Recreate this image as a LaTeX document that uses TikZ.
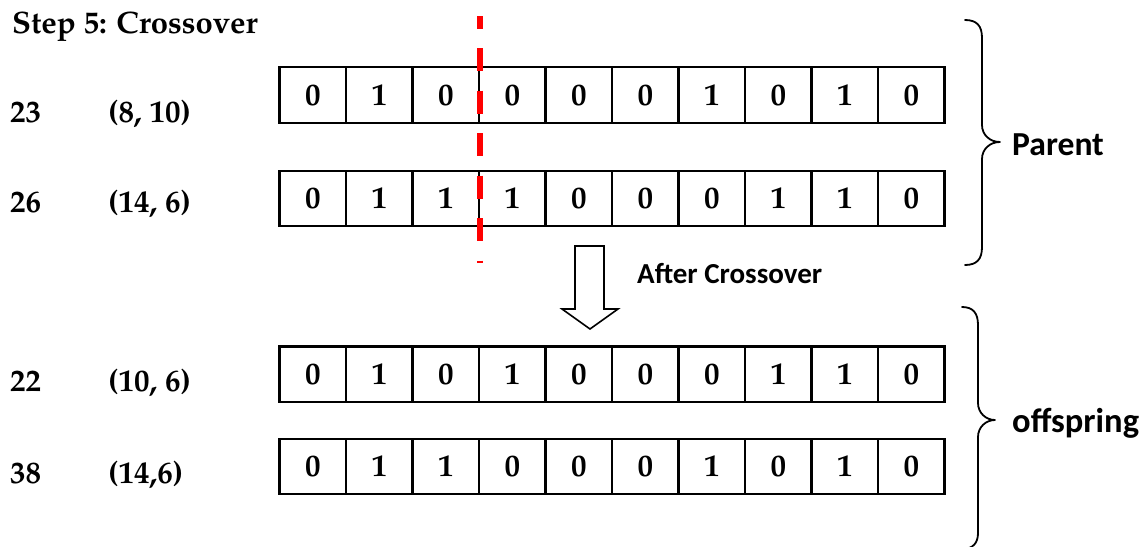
\documentclass[tikz,border=0pt]{standalone}
\usepackage[T1]{fontenc}
\usepackage{fontspec}
\newfontfamily\calibrifont{Carlito}
% bold Palatino for the numbers and row labels
\newcommand\palbold{\fontencoding{T1}\fontfamily{ppl}\fontseries{b}\fontshape{n}\fontsize{31}{37}\selectfont}
\newcommand\calbold[1]{\calibrifont\bfseries\fontsize{#1}{#1}\selectfont}

\begin{document}
\begin{tikzpicture}[x=1pt,y=-1pt,
  cell/.style={draw, line width=2.2pt, minimum width=66.5pt, minimum height=55.5pt,
               inner sep=0pt, outer sep=0pt, font=\palbold},
  rowlabel/.style={anchor=base west, inner sep=0pt, font=\palbold},
  sidetext/.style={anchor=base west, inner sep=0pt},
  brace/.style={line width=1.8pt, line join=round, line cap=round},
  cut/.style={red, line width=6pt, dash pattern=on 23pt off 19.5pt, dash phase=10.5pt},
  blockarrow/.style={draw, line width=1.6pt, line join=miter}]

\useasboundingbox (0,0) rectangle (1147,546);

\node[rowlabel] (title) at (12,33) {Step 5: Crossover};

% chromosome strings: parents (rows 1-2) and offspring (rows 3-4)
\foreach \r/\y/\bits in {1/95/{0,1,0,0,0,0,1,0,1,0},
                         2/198.5/{0,1,1,1,0,0,0,1,1,0},
                         3/374.25/{0,1,0,1,0,0,0,1,1,0},
                         4/466.5/{0,1,1,0,0,0,1,0,1,0}}{
  \foreach \b [count=\i] in \bits {
    \node[cell] (r\r c\i) at (246.25+66.5*\i, \y) {\b};
  }
}

% fitness values and decoded pairs
\node[rowlabel] (n1) at (10,122) {23};
\node[rowlabel] (p1) at (108,122) {(8, 10)};
\node[rowlabel] (n2) at (10,212) {26};
\node[rowlabel] (p2) at (108,212) {(14, 6)};
\node[rowlabel] (n3) at (10,391) {22};
\node[rowlabel] (p3) at (108,391) {(10, 6)};
\node[rowlabel] (n4) at (10,483) {38};
\node[rowlabel] (p4) at (108,483) {(14,6)};

% hollow down arrow
\draw[blockarrow] (575,246) -- (604,246) -- (604,309) -- (618,309) -- (590,329)
                  -- (562,309) -- (575,309) -- cycle;
\node[sidetext, font={\calbold{29}}] (after) at (637,283) {After Crossover};

% braces
\draw[brace] (965,20) .. controls (977,20) and (982,26) .. (982,38) -- (982,125)
  .. controls (982,135) and (990,142) .. (1000,142)
  .. controls (990,142) and (982,149) .. (982,159) -- (982,247)
  .. controls (982,259) and (977,265) .. (965,265);
\node[sidetext, font={\calbold{33.6}}] (parent) at (1012,155) {Parent};

\draw[brace] (962,307) .. controls (973,307) and (978,313) .. (978,325) -- (978,403)
  .. controls (978,413) and (986,420) .. (995,420)
  .. controls (986,420) and (978,427) .. (978,437) -- (978,533)
  .. controls (978,543) and (973,549) .. (962,549);
\node[sidetext, font={\calbold{34.5}}] (offspring) at (1012,432) {offspring};

% crossover point
\coordinate (cuttop) at (480,16);
\coordinate (cutbot) at (480,263);
\draw[cut] (cuttop) -- (cutbot);
\end{tikzpicture}
\end{document}
